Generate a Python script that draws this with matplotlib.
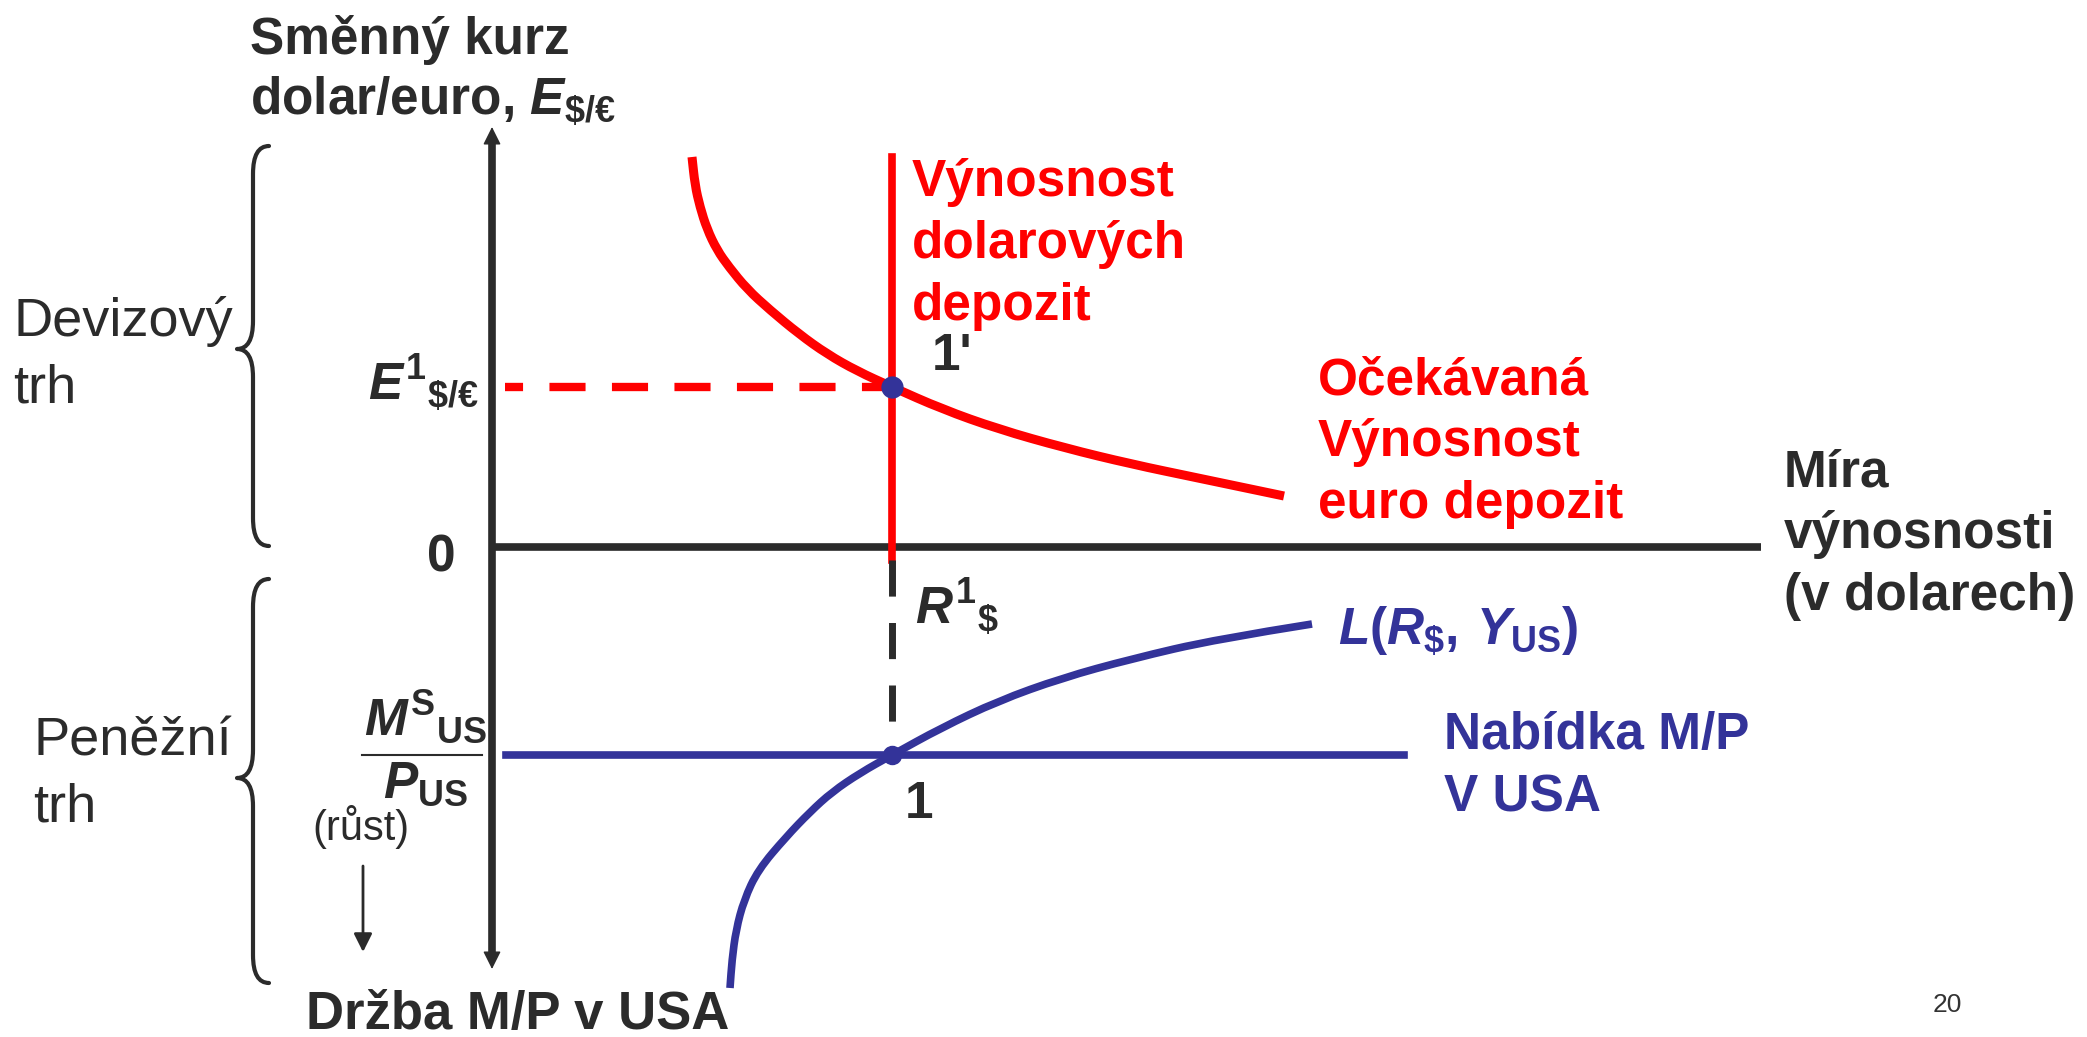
import matplotlib
matplotlib.use('Agg')
import matplotlib.pyplot as plt
from matplotlib.path import Path
from matplotlib.patches import PathPatch

# schematic values, 1 unit = 100 px of the slide, origin where the axes cross
r1 = 4.00          # equilibrium dollar rate of return R1$
e1 = 1.60          # equilibrium exchange rate E1$/EUR
ms_level = -2.08   # real money supply (holdings drawn downwards)

# expected return on euro deposits
euro_x = [2.00, 2.03, 2.08, 2.15, 2.25, 2.37, 2.55, 2.78, 3.07, 3.35, 3.65,
          4.00, 4.50, 5.06, 5.73, 6.39, 7.06, 7.92]
euro_y = [3.90, 3.62, 3.40, 3.18, 2.97, 2.80, 2.58, 2.37, 2.13, 1.93, 1.76,
          1.60, 1.38, 1.18, 0.99, 0.83, 0.69, 0.51]

# money demand L(R$, Y_US)
money_x = [2.38, 2.40, 2.44, 2.52, 2.66, 2.94, 3.18, 3.40, 3.68, 4.00, 4.49,
           5.06, 5.70, 6.39, 7.25, 8.20]
money_y = [-4.41, -4.13, -3.83, -3.53, -3.23, -2.90, -2.65, -2.45, -2.26,
           -2.08, -1.81, -1.54, -1.31, -1.12, -0.92, -0.77]

title_lines = ['Směnný kurz', r'dolar/euro, $E_{\mathit{\$/€}}$']
fx_lines = ['Devizový', 'trh']
mm_lines = ['Peněžní', 'trh']
dollar_lines = ['Výnosnost', 'dolarových', 'depozit']
euro_lines = ['Očekávaná', 'Výnosnost', 'euro depozit']
rate_lines = ['Míra', 'výnosnosti', '(v dolarech)']
supply_lines = ['Nabídka M/P', 'V USA']

DARK = '#2b2b2b'
RED = '#ff0000'
BLUE = '#333399'

plt.rcParams['font.family'] = ['Liberation Sans', 'DejaVu Sans']
plt.rcParams['mathtext.fontset'] = 'custom'
plt.rcParams['mathtext.rm'] = 'Liberation Sans:bold'
plt.rcParams['mathtext.bf'] = 'Liberation Sans:bold'
plt.rcParams['mathtext.it'] = 'Liberation Sans:bold:italic'
plt.rcParams['lines.scale_dashes'] = False

FS = 37


def lines_at(ax, x, y0, lines, step=0.62, **kw):
    for i, s in enumerate(lines):
        ax.text(x, y0 - i * step, s, va='baseline', **kw)


def smooth_curve(ax, xs, ys, **kw):
    # quadratic pieces through the midpoints, the read points act as controls
    pts = list(zip(xs, ys))
    verts = [pts[0], ((pts[0][0] + pts[1][0]) / 2, (pts[0][1] + pts[1][1]) / 2)]
    codes = [Path.MOVETO, Path.LINETO]
    for i in range(1, len(pts) - 1):
        nxt = pts[i + 1]
        end = nxt if i == len(pts) - 2 else ((pts[i][0] + nxt[0]) / 2,
                                             (pts[i][1] + nxt[1]) / 2)
        verts += [pts[i], end]
        codes += [Path.CURVE3, Path.CURVE3]
    ax.add_patch(PathPatch(Path(verts, codes), fill=False, capstyle='butt', **kw))


def brace(ax, x, top, tip, bot, w=0.16, r=0.28):
    hook, point = x + w, x - w
    verts = [(hook, top), (x, top), (x, top - r),
             (x, tip + r), (x, tip), (point, tip),
             (x, tip), (x, tip - r),
             (x, bot + r), (x, bot), (hook, bot)]
    codes = [Path.MOVETO, Path.CURVE3, Path.CURVE3,
             Path.LINETO, Path.CURVE3, Path.CURVE3,
             Path.CURVE3, Path.CURVE3,
             Path.LINETO, Path.CURVE3, Path.CURVE3]
    ax.add_patch(PathPatch(Path(verts, codes), fill=False, ec=DARK, lw=3,
                           capstyle='round', joinstyle='round'))


def head(ax, tip, start, lw):
    ax.annotate('', xy=tip, xytext=start,
                arrowprops=dict(arrowstyle='-|>,head_length=11,head_width=5.5',
                                mutation_scale=1, lw=lw, color=DARK,
                                shrinkA=0, shrinkB=0))


fig = plt.figure(figsize=(20.87, 10.37), dpi=100)
ax = fig.add_axes([0, 0, 1, 1])
ax.set_xlim(-4.92, 15.95)
ax.set_ylim(-4.90, 5.47)
ax.axis('off')

# axes of the diagram
ax.plot([0, 0], [4.08, -4.10], color=DARK, lw=5.5, solid_capstyle='butt')
ax.plot([0, 12.69], [0, 0], color=DARK, lw=5.5, solid_capstyle='butt')
head(ax, (0, 4.20), (0, 3.9), 1)
head(ax, (0, -4.22), (0, -3.9), 1)
head(ax, (-1.29, -4.05), (-1.29, -3.19), 2)

# foreign exchange market
ax.plot([0.13, r1], [e1, e1], color=RED, lw=6, ls=(13, (26, 19)))
ax.plot([r1, r1], [-0.13, euro_y[0]], color=RED, lw=5.5)
smooth_curve(ax, euro_x, euro_y, ec=RED, lw=6.5)

# money market
ax.plot([r1, r1], [-0.13, ms_level], color=DARK, lw=5, ls=(0, (26, 19)))
ax.plot([0.14, 9.12], [ms_level, ms_level], color=BLUE, lw=5.5)
smooth_curve(ax, money_x, money_y, ec=BLUE, lw=5.5)

ax.plot([r1], [e1], 'o', color=BLUE, ms=15, zorder=5)
ax.plot([r1], [ms_level], 'o', color=BLUE, ms=13, zorder=5)

# braces on the left
brace(ax, -2.39, 4.01, 1.98, 0.01)
brace(ax, -2.39, -0.32, -2.31, -4.36)

bold = dict(fontsize=FS, fontweight='bold')
lines_at(ax, -2.42, 4.93, title_lines, step=0.61, color=DARK, **bold)
lines_at(ax, -4.79, 2.11, fx_lines, step=0.66, color=DARK, fontsize=39)
lines_at(ax, -4.59, -2.09, mm_lines, step=0.65, color=DARK, fontsize=39)
lines_at(ax, 4.20, 3.51, dollar_lines, color=RED, **bold)
lines_at(ax, 8.26, 1.53, euro_lines, color=RED, **bold)
lines_at(ax, 12.92, 0.61, rate_lines, color=DARK, **bold)
lines_at(ax, 9.52, -2.02, supply_lines, color=BLUE, **bold)

ax.text(-0.13, 1.47, r'$E^{\mathrm{1}}{}_{\mathrm{\$/€}}$', ha='right',
        va='baseline', color=DARK, **bold)
ax.text(-0.51, -0.25, '0', ha='center', va='baseline', color=DARK, **bold)
ax.text(4.40, 1.77, "1'", va='baseline', color=DARK, **bold)
ax.text(4.23, -0.77, r'$R^{\mathrm{1}}{}_{\mathrm{\$}}$', va='baseline',
        color=DARK, **bold)
ax.text(4.13, -2.71, '1', va='baseline', color=DARK, **bold)
ax.text(8.46, -0.98,
        r'$\mathit{L(R}_{\mathrm{\$}}\mathit{,\,Y}_{\mathrm{US}}\mathit{)}$',
        va='baseline', color=BLUE, **bold)

# M^S/P fraction next to the axis
ax.text(-0.67, -1.88, r'$M^{\mathrm{S}}{}_{\mathrm{US}}$', ha='center',
        va='baseline', color=DARK, **bold)
ax.plot([-1.30, -0.10], [ms_level, ms_level], color=DARK, lw=1.5)
ax.text(-0.67, -2.51, r'$P_{\mathrm{US}}$', ha='center', va='baseline',
        color=DARK, **bold)
ax.text(-1.31, -2.93, '(růst)', ha='center', va='baseline', color=DARK,
        fontsize=30)

ax.text(-1.86, -4.82, 'Držba M/P v USA', va='baseline', color=DARK,
        fontsize=38, fontweight='bold')
ax.text(14.41, -4.65, '20', va='baseline', color='#333333', fontsize=19)

fig.savefig('out.png', dpi=100)
